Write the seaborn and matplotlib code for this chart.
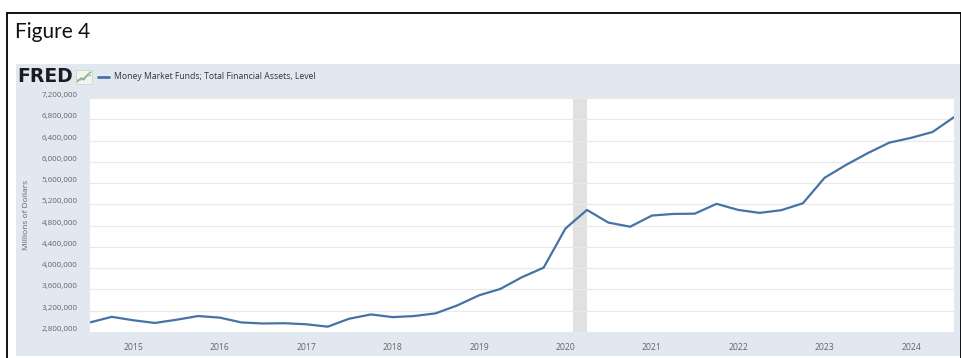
import numpy as np
import pandas as pd
import matplotlib
matplotlib.use("Agg")
import matplotlib.pyplot as plt
import matplotlib.dates as mdates
import matplotlib.transforms as mtransforms
from matplotlib.patches import Rectangle
from matplotlib.lines import Line2D
from matplotlib.ticker import FuncFormatter
import seaborn as sns

# quarterly observations, millions of dollars
quarters = pd.date_range("2014-07-01", "2024-07-01", freq="QS")
assets = [2980000, 3085000, 3020000, 2970000, 3030000, 3100000, 3070000, 2980000,
          2960000, 2965000, 2945000, 2900000, 3050000, 3130000, 3080000, 3100000,
          3150000, 3300000, 3490000, 3610000, 3830000, 4010000, 4745000, 5095000,
          4857000, 4780000, 4990000, 5020000, 5025000, 5210000, 5095000, 5040000,
          5090000, 5220000, 5700000, 5940000, 6160000, 6360000, 6450000, 6560000,
          6840000]
yticks = list(range(2800000, 7200001, 400000))
recession = ("2020-02-01", "2020-04-01")
series_name = "Money Market Funds; Total Financial Assets, Level"

df = pd.DataFrame({"date": quarters, "value": assets})

sns.set_style("white")
plt.rcParams["font.family"] = ["Open Sans", "DejaVu Sans"]

W, H = 962, 358
fig = plt.figure(figsize=(W / 100, H / 100), dpi=100)
fig.patch.set_facecolor("white")


def fx(px):
    return px / W


def fy(py):
    return 1 - py / H


# outer black frame
fig.add_artist(Line2D([fx(7), fx(961)], [fy(12.5), fy(12.5)], color="black", lw=1.3))
fig.add_artist(Line2D([fx(7.5), fx(7.5)], [fy(12.5), fy(360)], color="black", lw=1.3))
fig.add_artist(Line2D([fx(961), fx(961)], [fy(12.5), fy(360)], color="black", lw=1.3))
fig.text(fx(15), fy(32), "Figure 4", fontsize=15, va="center", ha="left",
         family=["Lato", "DejaVu Sans"], color="#111111")

# FRED panel
fig.add_artist(Rectangle((fx(16), fy(356)), fx(945), (356 - 64) / H,
                         facecolor="#e1e8f0", edgecolor="none", zorder=0))
fig.text(fx(17), fy(76.5), "FRED", fontsize=13.5, fontweight="bold", va="center",
         ha="left", family=["DejaVu Sans"], color="#1c1c1c")
# little chart icon
fig.add_artist(Rectangle((fx(76), fy(84)), fx(16), 14 / H, facecolor="#f1f5ee",
                         edgecolor="#c9d6c0", lw=0.5))
fig.add_artist(Line2D([fx(77), fx(81), fx(84), fx(87), fx(91)],
                      [fy(82), fy(78), fy(80), fy(75), fy(72)], color="#7fb069", lw=0.9))
fig.add_artist(Line2D([fx(77), fx(81), fx(85), fx(91)],
                      [fy(80), fy(80), fy(77), fy(75)], color="#8fa9c9", lw=0.7))
fig.add_artist(Line2D([fx(98), fx(109)], [fy(76.5), fy(76.5)], color="#4572a7", lw=2))
fig.text(fx(114), fy(76.5), series_name, fontsize=6.2, va="center", ha="left", color="#333333")

# main plot area
ax = fig.add_axes([fx(90), (H - 332) / H, fx(864), 234 / H])
ax.set_facecolor("white")
ax.axvspan(pd.Timestamp(recession[0]), pd.Timestamp(recession[1]), color="#e1e1e1", lw=0, zorder=0)
sns.lineplot(data=df, x="date", y="value", ax=ax, color="#4572a7", lw=1.6, zorder=3)

ax.set_xlim(pd.Timestamp("2014-07-01"), pd.Timestamp("2024-07-01"))
ax.set_ylim(2800000, 7200000)
ax.set_yticks(yticks)
ax.yaxis.set_major_formatter(FuncFormatter(lambda v, p: f"{v:,.0f}"))
ax.xaxis.set_major_locator(mdates.YearLocator())
ax.xaxis.set_major_formatter(mdates.DateFormatter("%Y"))
ax.grid(axis="y", color="#e9e9e9", lw=0.9, zorder=1)
ax.grid(axis="x", visible=False)
for s in ax.spines.values():
    s.set_visible(False)
ax.tick_params(axis="y", length=0, pad=9, labelsize=5.8, labelcolor="#666666")
ax.tick_params(axis="x", length=5, width=0.6, color="#ccd6eb", pad=3, labelsize=6.2,
               labelcolor="#666666")
# FRED puts the y labels a little above their grid lines
shift = mtransforms.ScaledTranslation(0, 3.5 / 100, fig.dpi_scale_trans)
for lab in ax.get_yticklabels():
    lab.set_transform(lab.get_transform() + shift)
ax.set_xlabel("")
ax.set_ylabel("Millions of Dollars", fontsize=6, color="#666666", labelpad=8)

fig.savefig("out.png", dpi=100)
